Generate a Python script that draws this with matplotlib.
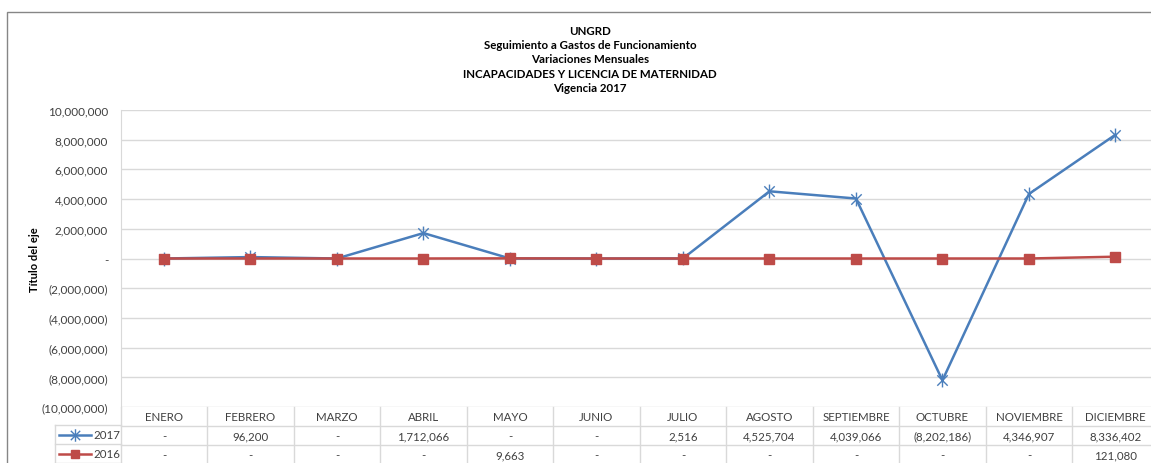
import numpy as np
import matplotlib
matplotlib.use("Agg")
from matplotlib import pyplot as plt
from matplotlib.lines import Line2D
from matplotlib.patches import Rectangle
from matplotlib.path import Path

# Data
meses = ['ENERO', 'FEBRERO', 'MARZO', 'ABRIL', 'MAYO', 'JUNIO', 'JULIO',
         'AGOSTO', 'SEPTIEMBRE', 'OCTUBRE', 'NOVIEMBRE', 'DICIEMBRE']
v2017 = [0, 96200, 0, 1712066, 0, 0, 2516, 4525704, 4039066, -8202186, 4346907, 8336402]
v2016 = [0, 0, 0, 0, 9663, 0, 0, 0, 0, 0, 0, 121080]
titulo = ['UNGRD', 'Seguimiento a Gastos de Funcionamiento', 'Variaciones Mensuales',
          'INCAPACIDADES Y LICENCIA DE MATERNIDAD', 'Vigencia 2017']

W, H = 1151, 464
azul = '#4A7EBB'
rojo = '#BE4B48'
gris = '#D9D9D9'
texto = '#404040'
plt.rcParams['font.family'] = ['Lato', 'DejaVu Sans']

# excel-like star marker: vertical bar plus an X
estrella = Path([(0, -1), (0, 1), (-0.75, -0.75), (0.75, 0.75), (-0.75, 0.75), (0.75, -0.75)],
                [Path.MOVETO, Path.LINETO, Path.MOVETO, Path.LINETO, Path.MOVETO, Path.LINETO])


def px(x, y):
    return x / W, 1 - y / H


def fmt(v):
    if v == 0:
        return '-'
    if v < 0:
        return '({:,})'.format(-v)
    return '{:,}'.format(v)


fig = plt.figure(figsize=(W / 100, H / 100), dpi=100)

# outer chart border
fig.add_artist(Rectangle(px(7, 470), 1.2, (470 - 13) / H, transform=fig.transFigure,
                         fill=False, edgecolor='#868686', lw=1.0))

left, top, bottom = 120.7, 111, 408
colw = 86.5
ax = fig.add_axes([left / W, 1 - bottom / H, 12 * colw / W, (bottom - top) / H])
x = np.arange(len(meses))
ax.plot(x, v2017, color=azul, lw=1.8, marker=estrella, markersize=10,
        markeredgecolor=azul, markeredgewidth=1.0, zorder=3)
ax.plot(x, v2016, color=rojo, lw=1.8, marker='s', markersize=7,
        markerfacecolor=rojo, markeredgecolor=rojo, zorder=4)

ax.set_xlim(-0.5, 11.5)
ax.set_ylim(-10000000, 10000000)
ax.set_yticks(np.arange(-10000000, 10000001, 2000000))
ax.set_yticklabels([fmt(int(t)) for t in ax.get_yticks()])
ax.set_xticks([])
ax.tick_params(axis='y', length=0, pad=9, labelsize=8.5, labelcolor=texto)
ax.grid(axis='y', color=gris, lw=1.0)
ax.set_axisbelow(True)
for s in ['top', 'right', 'bottom']:
    ax.spines[s].set_visible(False)
ax.spines['left'].set_color(gris)

fig.text(*px(35, 260), 'Título del eje', rotation=90, ha='center', va='center',
         fontsize=8, fontweight='bold', color='black')

# title
for i, t in enumerate(titulo):
    fig.text(*px(590, 31.5 + i * 14.2), t, ha='center', va='center',
             fontsize=8.3, fontweight='bold', color='black')

# data table below the plot
rowh = 19 / (bottom - top)
tr = ax.get_xaxis_transform()
for k in range(13):
    ax.add_line(Line2D([k - 0.5, k - 0.5], [0, -3 * rowh], transform=tr,
                       color=gris, lw=1.0, clip_on=False))
for r in range(1, 4):
    ax.add_line(Line2D([-0.5, 11.5], [-r * rowh, -r * rowh], transform=tr,
                       color=gris, lw=1.0, clip_on=False))
for i, m in enumerate(meses):
    ax.text(i, -0.5 * rowh, m, transform=tr, ha='center', va='center',
            fontsize=8.3, color=texto, clip_on=False)
    ax.text(i, -1.5 * rowh, fmt(v2017[i]), transform=tr, ha='center', va='center',
            fontsize=8.3, color=texto, clip_on=False)
    ax.text(i, -2.5 * rowh, fmt(v2016[i]), transform=tr, ha='center', va='center',
            fontsize=8.3, color=texto, clip_on=False)

# legend cells of the table
lx = 55
for yl in [426, 445, 464]:
    fig.add_artist(Line2D([lx / W, left / W], [1 - yl / H] * 2, transform=fig.transFigure,
                          color=gris, lw=1.0))
fig.add_artist(Line2D([lx / W] * 2, [1 - 426 / H, 1 - 464 / H], transform=fig.transFigure,
                      color=gris, lw=1.0))
for yc, col, mk, ms, lab in [(435.5, azul, estrella, 9, '2017'), (454.5, rojo, 's', 6, '2016')]:
    fig.add_artist(Line2D([59 / W, 91 / W], [1 - yc / H] * 2, transform=fig.transFigure,
                          color=col, lw=1.8))
    fig.add_artist(Line2D([75 / W], [1 - yc / H], transform=fig.transFigure, color=col,
                          marker=mk, markersize=ms, markeredgecolor=col, markerfacecolor=col,
                          markeredgewidth=1.0, lw=0))
    fig.text(*px(93, yc), lab, ha='left', va='center', fontsize=8.3, color=texto)

plt.savefig('out.png', dpi=100)
